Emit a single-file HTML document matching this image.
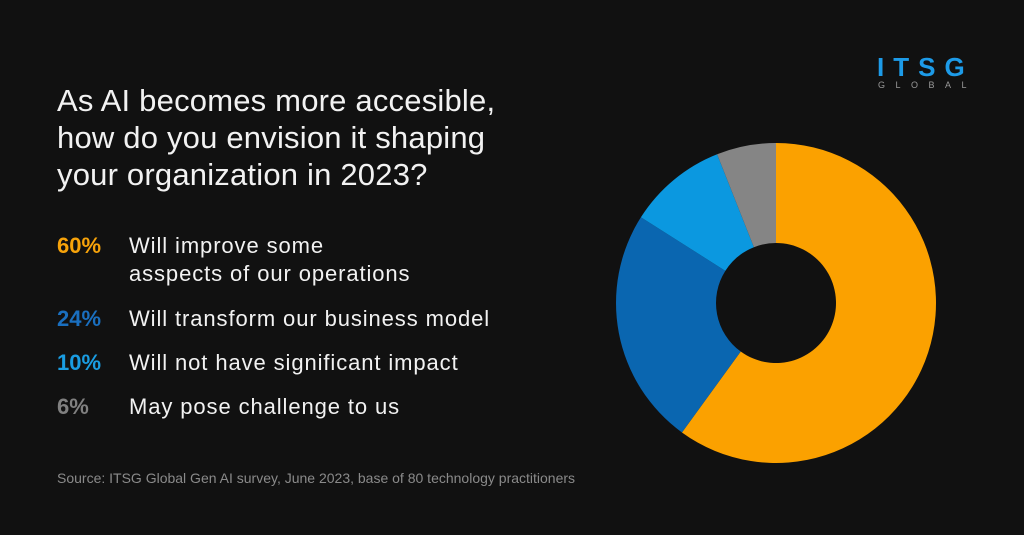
<!DOCTYPE html>
<html><head><meta charset="utf-8"><style>
html,body{margin:0;padding:0;background:#111111;}
body{width:1024px;height:535px;position:relative;overflow:hidden;font-family:"Liberation Sans","DejaVu Sans",sans-serif;color:#f2f2f2;}
.t{position:absolute;left:57px;top:82px;font-size:31px;line-height:37px;letter-spacing:0.2px;}
.row{position:absolute;left:57px;font-size:22px;line-height:28px;}
.p{position:absolute;left:0;font-weight:bold;}
.l{position:absolute;left:72px;white-space:nowrap;letter-spacing:0.9px;}
.src{position:absolute;left:57px;top:470px;font-size:14px;color:#8a8a8a;}
.logo{position:absolute;left:877px;top:52px;font-size:26px;font-weight:bold;color:#1d9be8;letter-spacing:9px;}
.g{position:absolute;left:878px;top:80px;font-size:9px;color:#999;letter-spacing:10.5px;}
</style></head><body>
<div class="t">As AI becomes more accesible,<br>how do you envision it shaping<br>your organization in 2023?</div>
<div class="row" style="top:232px"><span class="p" style="color:#f7a30a">60%</span><span class="l">Will improve some<br>asspects of our operations</span></div>
<div class="row" style="top:305px"><span class="p" style="color:#1a6fbf">24%</span><span class="l">Will transform our business model</span></div>
<div class="row" style="top:349px"><span class="p" style="color:#1a9de2">10%</span><span class="l">Will not have significant impact</span></div>
<div class="row" style="top:393px"><span class="p" style="color:#808080">6%</span><span class="l">May pose challenge to us</span></div>
<div class="src">Source: ITSG Global Gen AI survey, June 2023, base of 80 technology practitioners</div>
<div class="logo">ITSG</div>
<div class="g">GLOBAL</div>
<svg style="position:absolute;left:0;top:0" width="1024" height="535">
<path d="M776,143 A160,160 0 1 1 681.95,432.44 L740.73,351.54 A60,60 0 1 0 776,243 Z" fill="#fba100"/>
<path d="M681.95,432.44 A160,160 0 0 1 640.91,217.27 L725.34,270.85 A60,60 0 0 0 740.73,351.54 Z" fill="#0a66b0"/>
<path d="M640.91,217.27 A160,160 0 0 1 717.10,154.23 L753.91,247.21 A60,60 0 0 0 725.34,270.85 Z" fill="#0b98e0"/>
<path d="M717.10,154.23 A160,160 0 0 1 776,143 L776,243 A60,60 0 0 0 753.91,247.21 Z" fill="#858585"/>
</svg>
</body></html>
